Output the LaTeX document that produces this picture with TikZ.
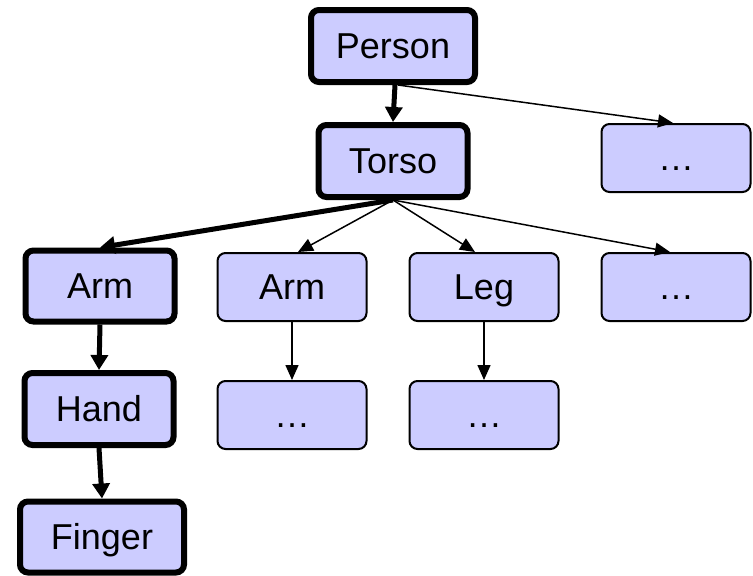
\documentclass[tikz,border=0pt]{standalone}
\usepackage{fontspec}
\setmainfont{Liberation Sans}
\usetikzlibrary{arrows.meta}
\definecolor{boxfill}{RGB}{204,204,255}
\begin{document}
\begin{tikzpicture}[x=1pt,y=-1pt,
  basebox/.style={rectangle, rounded corners=8pt, fill=boxfill, draw=black, font=\fontsize{36}{40}\selectfont, inner sep=0pt, text height=25.5pt, text depth=0pt},
  thickbox/.style={basebox, line width=6pt, minimum width=149pt, minimum height=72pt},
  thinbox/.style={basebox, line width=2pt, minimum width=149pt, minimum height=68pt},
  thickarrow/.style={line width=5pt, -{Triangle[length=15pt,width=17pt]}},
  thinarrow/.style={line width=1.5pt, -{Triangle[length=15pt,width=13pt]}}]
\useasboundingbox (0,0) rectangle (753,576);
\node[thickbox, minimum width=164pt] (person) at (393,46) {Person};
\node[thickbox] (torso) at (393,161) {Torso};
\node[thinbox] (dotsA) at (676,158) {…};
\node[thickbox, minimum height=71pt] (arm1) at (100,286) {Arm};
\node[thinbox] (arm2) at (292,287) {Arm};
\node[thinbox] (leg) at (484,287) {Leg};
\node[thinbox] (dotsB) at (676,287) {…};
\node[thickbox] (hand) at (99,409) {Hand};
\node[thinbox] (dotsC) at (292,415) {…};
\node[thinbox] (dotsD) at (484,415) {…};
\node[thickbox, minimum width=164pt, minimum height=71pt] (finger) at (102,537) {Finger};
\draw[thickarrow] ([xshift=2pt]person.south) -- (torso.north);
\draw[thinarrow] ([xshift=5pt]person.south) -- ([xshift=-3pt]dotsA.north);
\draw[thickarrow] (torso.south) -- (arm1.north);
\draw[thinarrow] (torso.south) -- ([xshift=6pt]arm2.north);
\draw[thinarrow] (torso.south) -- ([xshift=-9pt]leg.north);
\draw[thinarrow] (torso.south) -- ([xshift=-6pt]dotsB.north);
\draw[thickarrow] (arm1.south) -- (hand.north);
\draw[thickarrow] (hand.south) -- (finger.north);
\draw[thinarrow] (arm2.south) -- (dotsC.north);
\draw[thinarrow] (leg.south) -- (dotsD.north);
\end{tikzpicture}
\end{document}
